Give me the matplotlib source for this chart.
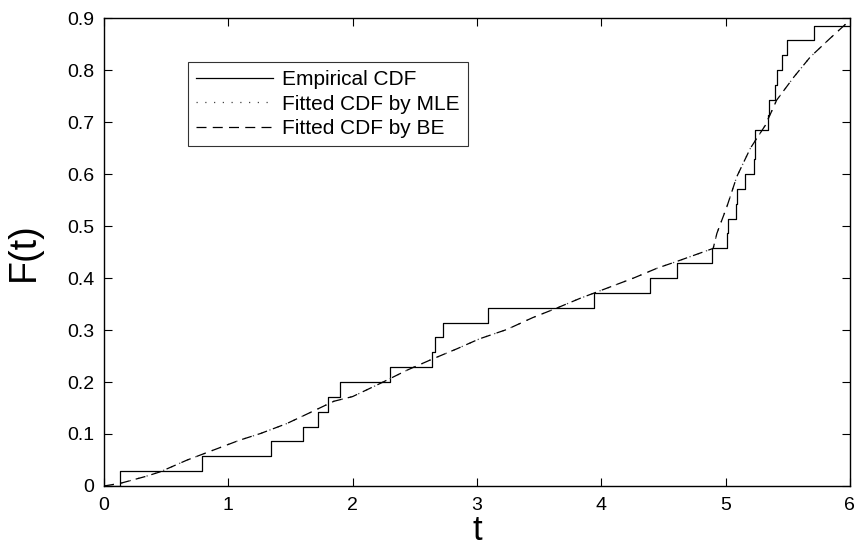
import matplotlib
matplotlib.use("Agg")
import matplotlib.pyplot as plt
import numpy as np

plt.rcParams['font.family'] = ['Liberation Sans', 'DejaVu Sans']

# Empirical CDF jump times (35 units, 31 failures before t=6)
jump_times = [0.13, 0.79, 1.34, 1.60, 1.72, 1.80, 1.90, 2.30, 2.64, 2.66,
              2.73, 3.09, 3.94, 4.39, 4.61, 4.89, 5.01, 5.02, 5.08, 5.09,
              5.16, 5.23, 5.235, 5.24, 5.34, 5.35, 5.40, 5.41, 5.45, 5.49, 5.71]
n_units = 35
t_end = 6.0

# Fitted CDF curves
fit_t = [0.0, 0.13, 0.33, 0.45, 0.67, 0.88, 1.09, 1.26, 1.47, 1.63, 1.85,
         2.00, 2.22, 2.44, 2.65, 2.84, 3.02, 3.24, 3.45, 3.64, 3.83, 4.04,
         4.26, 4.45, 4.62, 4.90, 4.93, 5.01, 5.09, 5.20, 5.32, 5.41, 5.55,
         5.68, 5.84, 6.00]
fit_mle = [0.0, 0.005, 0.018, 0.027, 0.050, 0.069, 0.088, 0.101, 0.120, 0.138,
           0.163, 0.172, 0.197, 0.223, 0.245, 0.264, 0.283, 0.301, 0.324, 0.342,
           0.361, 0.380, 0.400, 0.419, 0.433, 0.457, 0.486, 0.537, 0.595, 0.650,
           0.694, 0.742, 0.787, 0.825, 0.861, 0.896]
fit_be = list(fit_mle)

x_ticks = [0, 1, 2, 3, 4, 5, 6]
y_ticks = [0, 0.1, 0.2, 0.3, 0.4, 0.5, 0.6, 0.7, 0.8, 0.9]
y_tick_labels = ['0', '0.1', '0.2', '0.3', '0.4', '0.5', '0.6', '0.7', '0.8', '0.9']

# build step data
step_x = [0.0] + jump_times + [t_end]
step_y = [0.0] + [(i + 1) / n_units for i in range(len(jump_times))] + [len(jump_times) / n_units]

fig = plt.figure(figsize=(8.62, 5.49), dpi=100)
ax = fig.add_axes([0.1206, 0.1148, 0.8654, 0.8522])

ax.step(step_x, step_y, where='post', color='black', lw=0.9, label='Empirical CDF')
ax.plot(fit_t, fit_mle, linestyle=(0, (1, 6)), color='#444444', lw=0.9, label='Fitted CDF by MLE')
ax.plot(fit_t, fit_be, linestyle=(0, (8, 5)), color='black', lw=0.9, label='Fitted CDF by BE')

ax.set_xlim(0, 6)
ax.set_ylim(0, 0.9)
ax.set_xticks(x_ticks)
ax.set_yticks(y_ticks)
ax.set_yticklabels(y_tick_labels)
ax.tick_params(direction='in', top=True, right=True, length=6, width=0.8,
               labelsize=14)
ax.tick_params(axis='x', pad=8)
ax.tick_params(axis='y', pad=7)
for s in ax.spines.values():
    s.set_linewidth(1.0)

ax.set_xlabel('t', fontsize=25, labelpad=0)
ax.set_ylabel('F(t)', fontsize=27, labelpad=18)

leg = ax.legend(loc='upper left', bbox_to_anchor=(0.1126, 0.906), borderaxespad=0,
                fontsize=15, handlelength=3.7, frameon=True, fancybox=False,
                edgecolor='black', borderpad=0.4, labelspacing=0.25,
                handletextpad=0.4)
leg.get_frame().set_linewidth(0.8)

fig.savefig('out.png', dpi=100)
